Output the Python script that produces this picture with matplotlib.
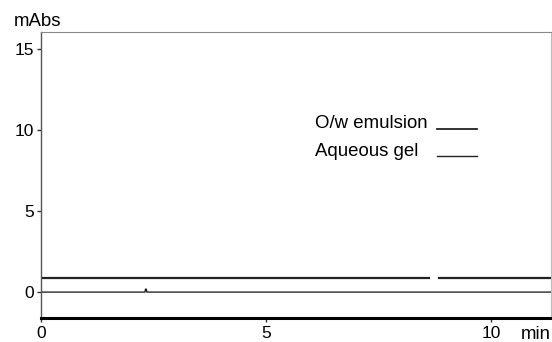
import numpy as np
import matplotlib
matplotlib.use("Agg")
import matplotlib.pyplot as plt

plt.rcParams["font.family"] = ["Liberation Sans", "DejaVu Sans"]

# chromatogram traces (time in min, absorbance in mAbs)
emulsion_t = [0.0, 8.62, np.nan, 8.84, 11.4]
emulsion_y = [0.86, 0.86, np.nan, 0.86, 0.86]
gel_t = [0.0, 2.31, 2.32, 2.34, 2.35, 11.4]
gel_y = [0.0, 0.0, 0.18, 0.18, 0.0, 0.0]

x_ticks = [0, 5, 10]
y_ticks = [0, 5, 10, 15]

FS_TICK = 12.5
FS_TEXT = 13.4

fig = plt.figure(figsize=(5.52, 3.42), dpi=100)
ax = fig.add_axes([0.0743, 0.0702, 0.924, 0.836])

ax.plot(emulsion_t, emulsion_y, color="#222222", lw=1.6)
ax.plot(gel_t, gel_y, color="#111111", lw=0.9)

ax.set_xlim(0, 11.33)
ax.set_ylim(-1.6, 16.05)
ax.set_xticks(x_ticks)
ax.set_yticks(y_ticks)
ax.tick_params(labelsize=FS_TICK, length=3, width=1, color="#333333")
ax.tick_params(axis="x", pad=3)
ax.tick_params(axis="y", pad=2)

ax.spines["bottom"].set_linewidth(2.2)
ax.spines["bottom"].set_color("black")
ax.spines["left"].set_color("#555555")
ax.spines["left"].set_linewidth(1.0)
ax.spines["top"].set_color("#888888")
ax.spines["top"].set_linewidth(0.8)
ax.spines["right"].set_color("#bbbbbb")
ax.spines["right"].set_linewidth(0.8)

fig.text(14 / 552, 1 - 26 / 342, "mAbs", fontsize=FS_TEXT, va="baseline", ha="left")
fig.text(551 / 552, 1 - 339 / 342, "min", fontsize=FS_TEXT, va="baseline", ha="right")

# legend drawn as text + line samples
ax.text(6.09, 10.1, "O/w emulsion", fontsize=FS_TEXT, ha="left", va="baseline")
ax.text(6.09, 8.4, "Aqueous gel", fontsize=FS_TEXT, ha="left", va="baseline")
ax.plot([8.80, 9.69], [10.06, 10.06], color="#222222", lw=1.3)
ax.plot([8.80, 9.69], [8.4, 8.4], color="#222222", lw=1.0)

fig.savefig("out.png", dpi=100)
